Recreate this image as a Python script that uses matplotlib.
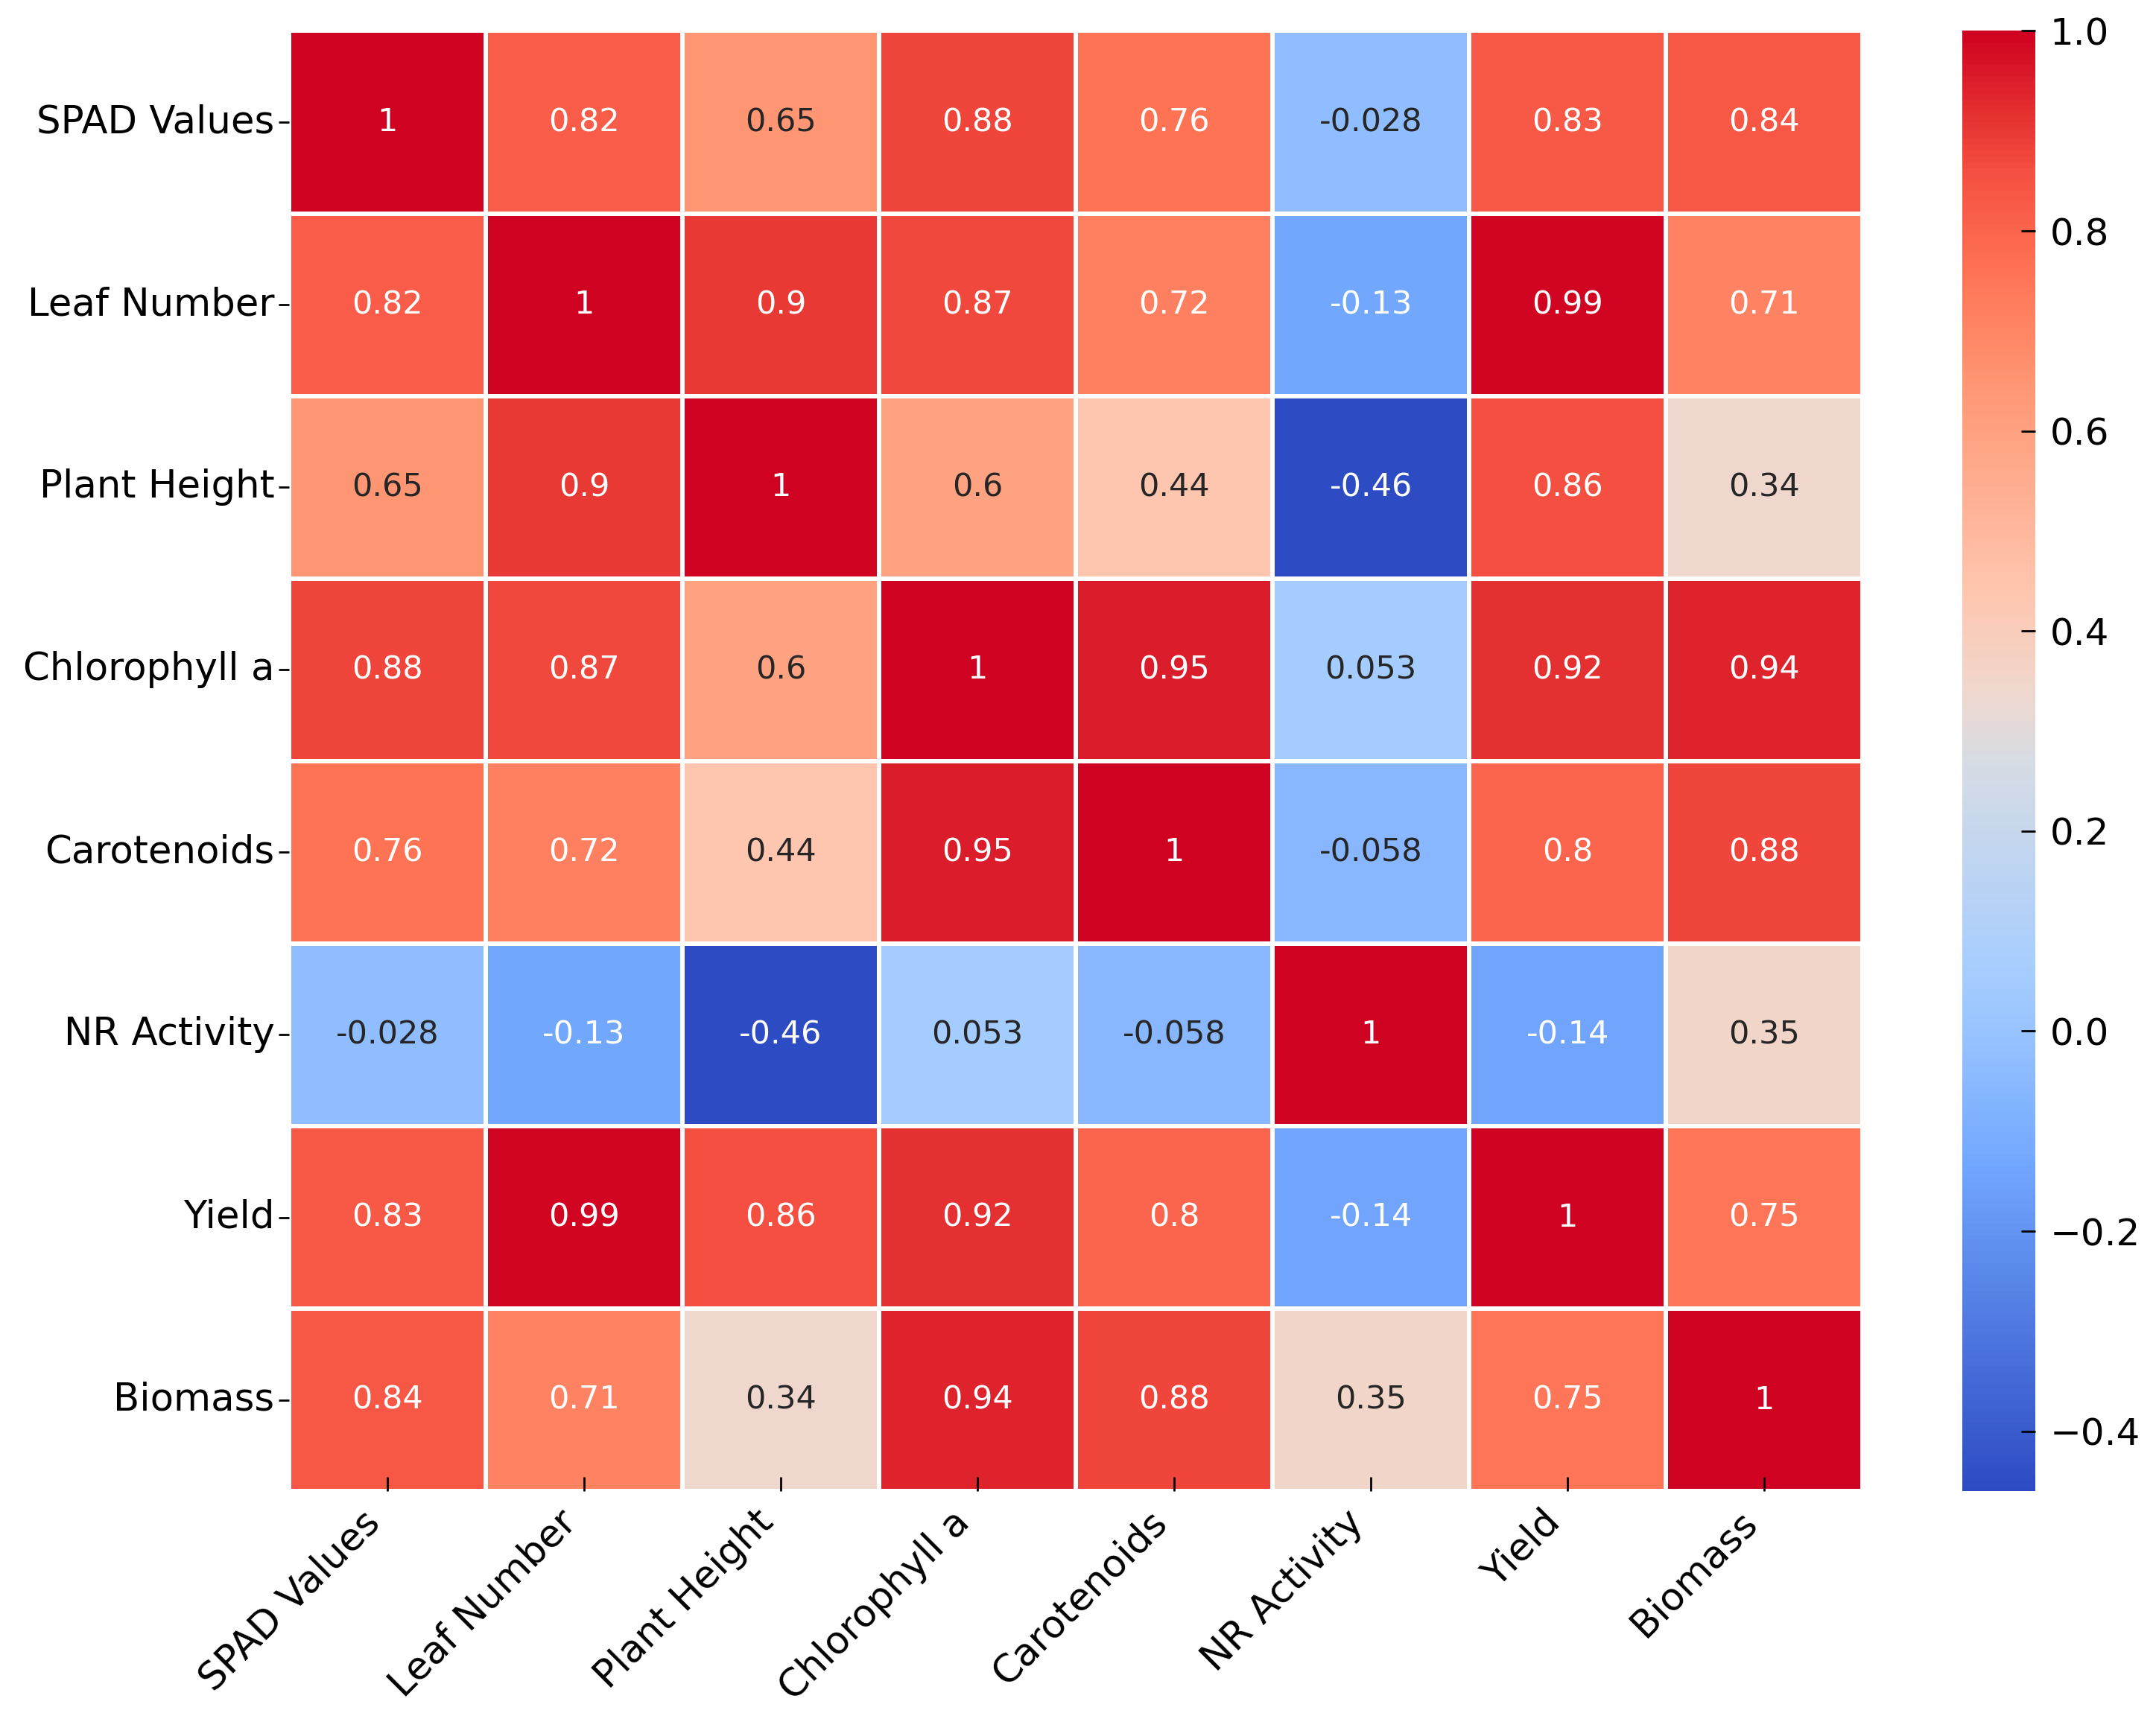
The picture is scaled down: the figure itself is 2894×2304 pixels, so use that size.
import numpy as np
import pandas as pd
import seaborn as sns
import matplotlib
matplotlib.use("Agg")
import matplotlib.pyplot as plt
from matplotlib.colors import LinearSegmentedColormap

labels = ["SPAD Values", "Leaf Number", "Plant Height", "Chlorophyll a",
          "Carotenoids", "NR Activity", "Yield", "Biomass"]

spad = [1, 0.82, 0.65, 0.88, 0.76, -0.028, 0.83, 0.84]
leaf = [0.82, 1, 0.9, 0.87, 0.72, -0.13, 0.99, 0.71]
height = [0.65, 0.9, 1, 0.6, 0.44, -0.46, 0.86, 0.34]
chl_a = [0.88, 0.87, 0.6, 1, 0.95, 0.053, 0.92, 0.94]
carot = [0.76, 0.72, 0.44, 0.95, 1, -0.058, 0.8, 0.88]
nr_act = [-0.028, -0.13, -0.46, 0.053, -0.058, 1, -0.14, 0.35]
yield_ = [0.83, 0.99, 0.86, 0.92, 0.8, -0.14, 1, 0.75]
biomass = [0.84, 0.71, 0.34, 0.94, 0.88, 0.35, 0.75, 1]

corr = pd.DataFrame([spad, leaf, height, chl_a, carot, nr_act, yield_, biomass],
                    index=labels, columns=labels)

# a brighter, more saturated coolwarm (as seen in the reference)
stops = [(0.000, (45, 75, 195)), (0.226, (115, 168, 255)), (0.296, (145, 190, 255)),
         (0.352, (165, 205, 255)), (0.500, (215, 220, 228)), (0.548, (240, 215, 205)),
         (0.616, (255, 198, 175)), (0.760, (255, 150, 115)), (0.836, (255, 115, 85)),
         (0.904, (245, 80, 65)), (0.945, (228, 48, 48)), (1.000, (208, 2, 33))]
cmap = LinearSegmentedColormap.from_list(
    "bright_coolwarm", [(p, tuple(c / 255 for c in rgb)) for p, rgb in stops])

plt.rcParams['font.family'] = ['DejaVu Sans']
fig = plt.figure(figsize=(28.94, 23.04), dpi=100)
ax = fig.add_axes([0.134, 0.131, 0.730, 0.851])
cax = fig.add_axes([0.910, 0.131, 0.034, 0.851])

sns.heatmap(corr, annot=True, cmap=cmap, linewidths=3, linecolor="white",
            annot_kws={"size": 31}, ax=ax, cbar_ax=cax)

ax.tick_params(axis='y', labelsize=37, length=10, width=2, direction='out', pad=4)
ax.tick_params(axis='x', labelsize=37, length=14, width=2, direction='in', pad=12)
plt.setp(ax.get_xticklabels(), rotation=45, ha='right')
plt.setp(ax.get_yticklabels(), rotation=0)

cax.tick_params(labelsize=36, length=14, width=2, direction='in', pad=14)
cax.set_yticks([-0.4, -0.2, 0.0, 0.2, 0.4, 0.6, 0.8, 1.0])

fig.savefig("out.png", dpi=100)
